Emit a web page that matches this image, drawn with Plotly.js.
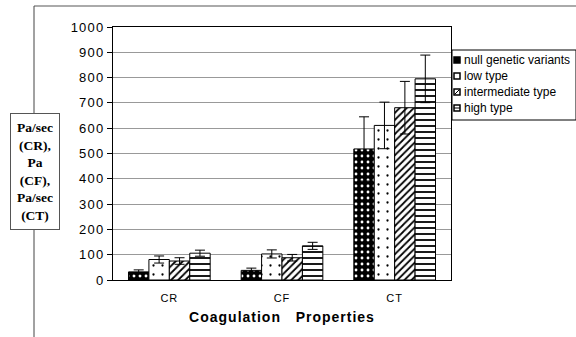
<!DOCTYPE html>
<html>
<head>
<meta charset="utf-8">
<script src="https://cdn.plot.ly/plotly-3.0.1.min.js"></script>
<style>
  html, body { margin: 0; padding: 0; background: #fff; }
  #chart { width: 576px; height: 337px; }
  #chart .ytick text { letter-spacing: 1.2px; }
  #chart .xtick text { letter-spacing: 1px; }
  #chart .g-xtitle text { letter-spacing: 1px; }
</style>
</head>
<body>
<div id="chart"></div>
<script>
// Coagulation properties by genotype group (mean with error bars)
const categories = ['CR', 'CF', 'CT'];

const seriesNames = ['null genetic variants', 'low type', 'intermediate type', 'high type'];

const nullValues = [32, 38, 518];
const nullErrors = [8, 9, 127];

const lowValues = [81, 103, 611];
const lowErrors = [14, 16, 92];

const intermediateValues = [75, 88, 681];
const intermediateErrors = [13, 13, 104];

const highValues = [106, 135, 795];
const highErrors = [12, 14, 94];

const yTicks = [0, 100, 200, 300, 400, 500, 600, 700, 800, 900, 1000];

const patterns = [
  { shape: '.', bgcolor: '#000', fgcolor: '#fff', size: 6, solidity: 0.18 },
  { shape: '.', bgcolor: '#fff', fgcolor: '#000', size: 9, solidity: 0.05 },
  { shape: '/', bgcolor: '#fff', fgcolor: '#000', size: 5, solidity: 0.35 },
  { shape: '-', bgcolor: '#fff', fgcolor: '#000', size: 6, solidity: 0.3 }
];

const valueSets = [nullValues, lowValues, intermediateValues, highValues];
const errorSets = [nullErrors, lowErrors, intermediateErrors, highErrors];

const traces = seriesNames.map((name, i) => ({
  type: 'bar',
  name: name,
  x: categories,
  y: valueSets[i],
  marker: {
    color: patterns[i].bgcolor,
    pattern: patterns[i],
    line: { color: '#000', width: 1 }
  },
  error_y: {
    type: 'data',
    array: errorSets[i],
    visible: true,
    color: '#000',
    thickness: 1,
    width: 5
  }
}));

// page geometry of the plotting area, used to place the frame and key
const M = { l: 113, r: 125, t: 27, b: 57 };
const W = 576, H = 337;
const plotW = W - M.l - M.r, plotH = H - M.t - M.b;
const px = x => (x - M.l) / plotW;
const py = y => (H - M.b - y) / plotH;

const shapes = [
  // outer frame: top and left rules
  { type: 'line', xref: 'paper', yref: 'paper',
    x0: px(34), x1: px(576), y0: py(6), y1: py(6),
    line: { color: '#aaa', width: 2 } },
  { type: 'line', xref: 'paper', yref: 'paper',
    x0: px(34), x1: px(34), y0: py(6), y1: py(337),
    line: { color: '#444', width: 1 } },
  // key box
  { type: 'rect', xref: 'paper', yref: 'paper',
    x0: px(452), x1: px(576), y0: py(50), y1: py(120),
    fillcolor: '#fff', line: { color: '#000', width: 1 } }
];

const annotations = [
  {
    xref: 'paper', yref: 'paper',
    x: px(35), y: py(171), xanchor: 'center', yanchor: 'middle',
    text: '<b>Pa/sec<br>(CR),<br>Pa<br>(CF),<br>Pa/sec<br>(CT)</b>',
    showarrow: false,
    align: 'center',
    font: { family: 'Liberation Serif, Times New Roman, serif', size: 13.5, color: '#000' },
    bgcolor: '#fff',
    bordercolor: '#555', borderwidth: 1, borderpad: 6
  }
];

// key entries
const keyRows = [60, 76, 92, 108];
const keyFill = ['#000', '#fff', '#fff', '#fff'];
seriesNames.forEach((name, i) => {
  const yc = keyRows[i];
  shapes.push({
    type: 'rect', xref: 'paper', yref: 'paper',
    x0: px(454), x1: px(460), y0: py(yc - 3), y1: py(yc + 3),
    fillcolor: keyFill[i], line: { color: '#000', width: 1.5 }
  });
  if (i === 2) {
    shapes.push({ type: 'line', xref: 'paper', yref: 'paper',
      x0: px(455), x1: px(459), y0: py(yc + 2), y1: py(yc - 2),
      line: { color: '#000', width: 1 } });
  }
  if (i === 3) {
    shapes.push({ type: 'line', xref: 'paper', yref: 'paper',
      x0: px(454), x1: px(460), y0: py(yc), y1: py(yc),
      line: { color: '#000', width: 1 } });
  }
  annotations.push({
    xref: 'paper', yref: 'paper',
    x: px(462), y: py(yc), xanchor: 'left', yanchor: 'middle',
    text: name, showarrow: false,
    font: { family: 'Arial, Liberation Sans, sans-serif', size: 12, color: '#000' }
  });
});

const layout = {
  width: W,
  height: H,
  margin: Object.assign({ autoexpand: false }, M),
  paper_bgcolor: '#fff',
  plot_bgcolor: '#fff',
  barmode: 'group',
  bargap: 0.275,
  bargroupgap: 0,
  showlegend: false,
  xaxis: {
    type: 'category',
    showline: true, linecolor: '#000', linewidth: 1, mirror: true,
    ticks: '',
    ticklabelstandoff: 8,
    tickfont: { family: 'Arial, Liberation Sans, sans-serif', size: 11, color: '#000' },
    title: {
      text: 'Coagulation&nbsp;&nbsp;&nbsp;Properties',
      font: { family: 'Arial, Liberation Sans, sans-serif', size: 14, color: '#000', weight: 'bold' },
      standoff: 8
    }
  },
  yaxis: {
    range: [0, 1000],
    tickvals: yTicks,
    ticktext: yTicks.map(String),
    showgrid: true, gridcolor: '#999', gridwidth: 1,
    showline: true, linecolor: '#000', linewidth: 1, mirror: true,
    ticks: 'outside', ticklen: 5, tickcolor: '#000',
    tickfont: { family: 'Arial, Liberation Sans, sans-serif', size: 13, color: '#000' },
    zeroline: false
  },
  shapes: shapes,
  annotations: annotations
};

Plotly.newPlot('chart', traces, layout, { displayModeBar: false, staticPlot: true });
</script>
</body>
</html>
